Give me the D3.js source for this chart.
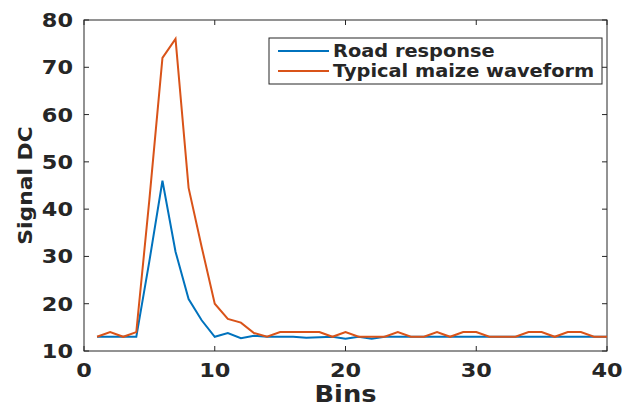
<!DOCTYPE html>
<html>
<head>
<meta charset="utf-8">
<script src="https://cdn.jsdelivr.net/npm/d3@7"></script>
<style>
body{margin:0;background:#fff;}
text{font-family:"DejaVu Sans",sans-serif;font-weight:bold;fill:#262626;}
</style>
</head>
<body>
<script>
// chart data
var bins = d3.range(1, 41);
var roadResponse = [13,13,13,13,29,46,31,21,16.5,13,
                    13.8,12.7,13.2,13,13,13,12.8,12.9,13,12.6,
                    13,12.6,13,13,13,13,13,13,13,13,
                    13,13,13,13,13,13,13,13,13,13];
var maizeWave = [13,14,13,14,42,72,76,44.5,32,20,
                 16.8,16,13.8,13,14,14,14,14,13,14,
                 13,13,13,14,13,13,14,13,14,14,
                 13,13,13,14,14,13,14,14,13,13];
var xTicks = [0,10,20,30,40];
var yTicks = [10,20,30,40,50,60,70,80];
var seriesNames = ["Road response","Typical maize waveform"];
var colors = ["#0072BD","#D95319"];

var W = 624, H = 407;
var pL = 84, pR = 607, pT = 20, pB = 351;
var stretch = 1.12; // text in the figure is a bit wide

var svg = d3.select("body").append("svg")
    .attr("width", W)
    .attr("height", H);

var x = d3.scaleLinear().domain([0,40]).range([pL,pR]);
var y = d3.scaleLinear().domain([10,80]).range([pB,pT]);

function label(g, tx, ty, str, size, anchor, rot){
    return g.append("text")
        .attr("transform","translate("+tx+","+ty+")"+(rot?" rotate(-90)":"")+" scale("+stretch+",1)")
        .attr("text-anchor",anchor)
        .style("font-size",size+"px")
        .text(str);
}

// box
svg.append("rect")
    .attr("x", pL).attr("y", pT)
    .attr("width", pR-pL).attr("height", pB-pT)
    .attr("fill", "none").attr("stroke", "#262626").attr("stroke-width", 1);

// ticks, inside on both sides
var tl = 5;
xTicks.forEach(function(t){
    svg.append("line").attr("x1",x(t)).attr("x2",x(t)).attr("y1",pB).attr("y2",pB-tl).attr("stroke","#262626");
    svg.append("line").attr("x1",x(t)).attr("x2",x(t)).attr("y1",pT).attr("y2",pT+tl).attr("stroke","#262626");
    label(svg, x(t), pB+26, t, 20, "middle");
});
yTicks.forEach(function(t){
    svg.append("line").attr("x1",pL).attr("x2",pL+tl).attr("y1",y(t)).attr("y2",y(t)).attr("stroke","#262626");
    svg.append("line").attr("x1",pR).attr("x2",pR-tl).attr("y1",y(t)).attr("y2",y(t)).attr("stroke","#262626");
    label(svg, pL-11, y(t)+7, t, 20, "end");
});

// axis labels
label(svg, (pL+pR)/2, 402, "Bins", 23, "middle");
label(svg, 32, (pT+pB)/2, "Signal DC", 19.5, "middle", true);

// lines
var line = d3.line()
    .x(function(d,i){return x(bins[i]);})
    .y(function(d){return y(d);});

[roadResponse, maizeWave].forEach(function(s,k){
    svg.append("path").datum(s)
        .attr("d", line)
        .attr("fill","none")
        .attr("stroke", colors[k])
        .attr("stroke-width", 2);
});

// legend
var lg = svg.append("g");
lg.append("rect").attr("x",269).attr("y",38).attr("width",333).attr("height",46)
    .attr("fill","#fff").attr("stroke","#262626").attr("stroke-width",1);
seriesNames.forEach(function(n,k){
    var yy = 51 + k*20;
    lg.append("line").attr("x1",278).attr("x2",329).attr("y1",yy).attr("y2",yy)
        .attr("stroke",colors[k]).attr("stroke-width",2);
    label(lg, 333, yy+6, n, 17.3, "start");
});
</script>
</body>
</html>
